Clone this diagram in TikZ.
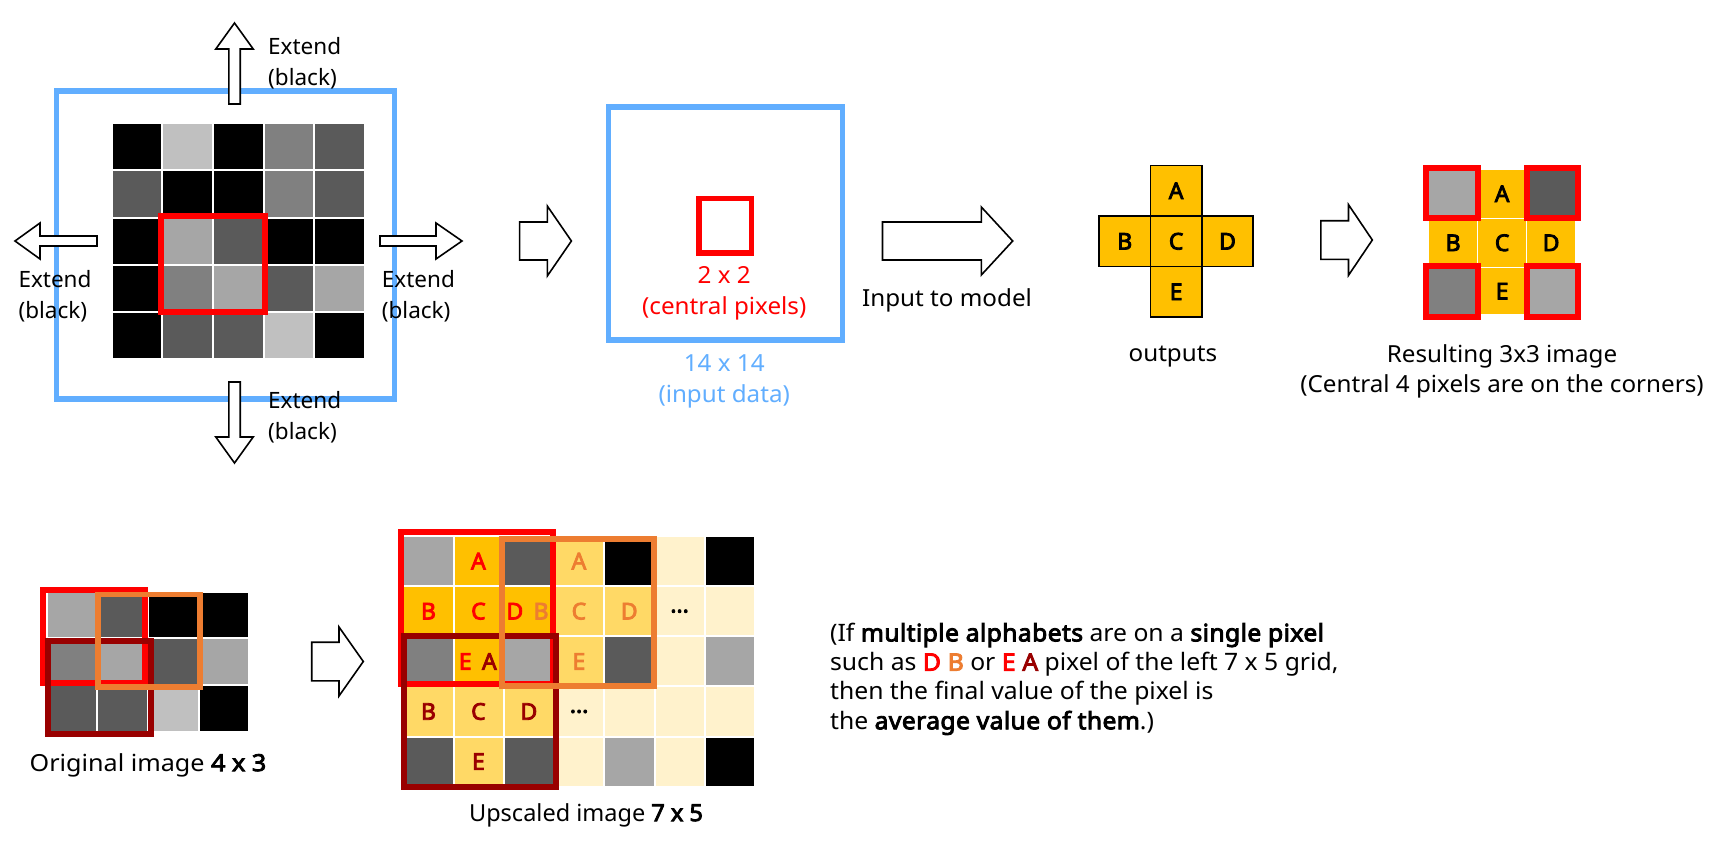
\documentclass[tikz,border=0pt]{standalone}
\usepackage{fontspec}
\setmainfont{Noto Sans}[AutoFakeBold=3.6]
\definecolor{lblue}{RGB}{97,174,255}
\definecolor{ored}{RGB}{237,125,49}
\definecolor{dred}{RGB}{153,0,0}
\definecolor{gold}{HTML}{FFC000}
\definecolor{goldb}{HTML}{FFD966}
\definecolor{goldc}{HTML}{FFF2CC}
\definecolor{ga}{HTML}{C0C0C0}
\definecolor{gb}{HTML}{A6A6A6}
\definecolor{gc}{HTML}{808080}
\definecolor{gd}{HTML}{5A5A5A}
\tikzset{
  blockarrow/.style={draw=black, fill=white, line width=1.6pt, line join=miter},
  lbl/.style={font=\fontsize{23.5}{31}\selectfont\addfontfeatures{FakeStretch=1.03}, inner sep=0pt},
  widelbl/.style={font=\fontsize{23.5}{31}\selectfont\addfontfeatures{FakeStretch=1.07}, inner sep=0pt},
  extlbl/.style={font=\fontsize{22.5}{31}\selectfont, inner sep=0pt, anchor=west, align=left},
  cell/.style={draw=white, line width=2pt},
  let/.style={font=\fontsize{23}{26}\selectfont\bfseries, inner sep=0pt},
  crosscell/.style={draw=black, line width=1.6pt, fill=gold, minimum width=51.4pt, minimum height=50.5pt, inner sep=0pt, font=\fontsize{23}{26}\selectfont\bfseries},
  blueframe/.style={draw=lblue, line width=5.7pt},
  redframe/.style={draw=red, line width=6pt},
  oframe/.style={draw=ored, line width=5.7pt},
  dframe/.style={draw=dred, line width=6pt},
}
% #1,#2 tail centre, #3 rotation, #4 shaft length, #5 head length, #6 shaft half width, #7 head half width
\newcommand\blockarr[7]{%
  \draw[blockarrow,shift={(#1,#2)},rotate=#3] (0,-#6) -- (#4,-#6) -- (#4,-#7) -- (#4+#5,0) -- (#4,#7) -- (#4,#6) -- (0,#6) -- cycle;}
\newcommand\gapp{\hspace{0.45em}}
\newcommand\bw[1]{{\bfseries\addfontfeatures{LetterSpace=1.5}#1}}
\begin{document}
\begin{tikzpicture}[x=1pt,y=-1pt]
\useasboundingbox (0,0) rectangle (1728,845);
\fill[white] (0,0) rectangle (1728,845);

% ---------- panel 1 : 5x5 image with extension ----------
\draw[blueframe] (56.5,91) rectangle (394.5,399);
\foreach \c [count=\i from 0] in {black,ga,black,gc,gd, gd,black,black,gc,gd, black,gb,gd,black,black, black,gc,gb,gd,gb, black,gd,gd,ga,black}{
  \pgfmathtruncatemacro\cc{mod(\i,5)}
  \pgfmathtruncatemacro\rr{floor(\i/5)}
  \path[cell, fill=\c] (111.7+\cc*50.66, 123.3+\rr*47.14) rectangle ++(50.66,47.14);
}
\draw[redframe, line width=5.5pt] (161,216) rectangle (265,312);
\blockarr{234.5}{104}{90}{55}{26}{5.7}{18.7}
\blockarr{234.5}{382}{-90}{55}{26}{5.7}{18.7}
\blockarr{97}{241}{180}{57}{25}{5}{18}
\blockarr{380}{241}{0}{56}{26}{5}{18}
\node[extlbl] (extT) at (268,63.5) {Extend\\(black)};
\node[extlbl] (extL) at (18.3,296.7) {Extend\\(black)};
\node[extlbl] (extR) at (381.7,296.7) {Extend\\(black)};
\node[extlbl] (extB) at (268,417) {Extend\\(black)};

% ---------- panel 2 : 14x14 input ----------
\blockarr{519.6}{241}{0}{27.7}{24.1}{19}{35}
\draw[blueframe] (608.6,107) rectangle (842.4,340);
\draw[red, line width=5.5pt] (699,198.5) rectangle (751.3,253);
\node[lbl, text=red, align=center] (cent) at (724.2,293.5) {2 x 2\\(central pixels)};
\node[lbl, text=lblue, align=center] (inp) at (724.2,381.5) {14 x 14\\(input data)};
\blockarr{882.5}{241}{0}{98.8}{31.4}{19}{34}
\node[lbl] (itm) at (947,300) {Input to model};

% ---------- panel 3 : outputs cross ----------
\node[crosscell] (oA) at (1176.1,190.8) {A};
\node[crosscell] (oB) at (1124.7,241.3) {B};
\node[crosscell] (oC) at (1176.1,241.3) {C};
\node[crosscell] (oD) at (1227.5,241.3) {D};
\node[crosscell] (oE) at (1176.1,291.8) {E};
\node[lbl] (outs) at (1172.9,356.7) {outputs};

\blockarr{1320.8}{240}{0}{27.7}{23.8}{19.3}{35.3}

% ---------- panel 4 : resulting 3x3 ----------
\path[cell, line width=1.5pt, fill=gold] (1477.6,169.3) rectangle (1526.6,218.3);
\path[cell, line width=1.5pt, fill=gold] (1428.6,218.3) rectangle (1477.6,267.3);
\path[cell, line width=1.5pt, fill=gold] (1477.6,218.3) rectangle (1526.6,267.3);
\path[cell, line width=1.5pt, fill=gold] (1526.6,218.3) rectangle (1575.6,267.3);
\path[cell, line width=1.5pt, fill=gold] (1477.6,267.3) rectangle (1526.6,315);
\draw[redframe, fill=gb] (1426,168) rectangle (1477.5,218);
\draw[redframe, fill=gd] (1526.6,168) rectangle (1577.7,218);
\draw[redframe, fill=gc] (1426,266.3) rectangle (1477.5,317);
\draw[redframe, fill=gb] (1526.6,266.3) rectangle (1577.7,317);
\node[let] (rA) at (1502.1,193.8) {A};
\node[let] (rB) at (1453.1,242.8) {B};
\node[let] (rC) at (1502.1,242.8) {C};
\node[let] (rD) at (1551.1,242.8) {D};
\node[let] (rE) at (1502.1,291.2) {E};
\node[lbl] (res1) at (1502,356.7) {Resulting 3x3 image};
\node[lbl] (res2) at (1502,386.7) {(Central 4 pixels are on the corners)};

% ---------- bottom left : original 4x3 ----------
\foreach \c [count=\i from 0] in {gb,gd,black,black, gc,gb,gd,gb, gd,gd,ga,black}{
  \pgfmathtruncatemacro\cc{mod(\i,4)}
  \pgfmathtruncatemacro\rr{floor(\i/4)}
  \path[cell, fill=\c] (46.7+\cc*50.6, 591.7+\rr*46.7) rectangle ++(50.6,46.7);
}
\draw[redframe] (43,590.3) rectangle (144.7,682.7);
\draw[dframe] (48,640.5) rectangle (150.5,733.8);
\draw[oframe] (98,594.5) rectangle (199.8,687);
\node[widelbl] (orig) at (148,765) {Original image \textbf{4 x 3}};

\blockarr{311.7}{661.5}{0}{27.3}{24.3}{19.3}{34.5}

% ---------- bottom middle : upscaled 7x5 ----------
\foreach \c [count=\i from 0] in {gb,gold,gd,goldb,black,goldc,black,
  gold,gold,gold,goldb,goldb,goldc,goldc,
  gc,gold,gb,goldb,gd,goldc,gb,
  goldb,goldb,goldb,goldc,goldc,goldc,goldc,
  gd,goldb,gd,goldc,gb,goldc,black}{
  \pgfmathtruncatemacro\cc{mod(\i,7)}
  \pgfmathtruncatemacro\rr{floor(\i/7)}
  \path[cell, fill=\c] (403.3+\cc*50.24, 536+\rr*50.14) rectangle ++(50.24,50.14);
}
\node[let, text=red]  (u1) at (478.4,561.1) {A};
\node[let, text=ored] (u2) at (578.9,561.1) {A};
\node[let, text=red]  (u3) at (428.4,611.2) {B};
\node[let, text=red]  (u4) at (478.4,611.2) {C};
\node[let] (u5) at (527.5,611.2) {\textcolor{red}{D}\gapp\textcolor{ored}{B}};
\node[let, text=ored] (u6) at (578.9,611.2) {C};
\node[let, text=ored] (u7) at (629.2,611.2) {D};
\node[let] (u8) at (679.6,611.2) {...};
\node[let] (u9) at (477.8,661.4) {\textcolor{red}{E}\gapp\textcolor{dred}{A}};
\node[let, text=ored] (u10) at (578.9,661.4) {E};
\node[let, text=dred] (u11) at (428.4,711.5) {B};
\node[let, text=dred] (u12) at (478.4,711.5) {C};
\node[let, text=dred] (u13) at (528.9,711.5) {D};
\node[let] (u14) at (579.1,711.5) {...};
\node[let, text=dred] (u15) at (478.4,761.6) {E};
\draw[redframe] (401.3,532) rectangle (552.7,683.7);
\draw[dframe] (404,635.7) rectangle (556,787);
\draw[oframe] (502.3,539) rectangle (653.7,686.3);
\node[inner sep=0pt, font=\fontsize{23.5}{31}\selectfont] (ups) at (586,815) {Upscaled image \textbf{7 x 5}};

% ---------- explanation ----------
\node[inner sep=0pt, font=\fontsize{24}{29.3}\selectfont\addfontfeatures{FakeStretch=1.03}, anchor=west, align=left] (expl) at (829.9,679) {(If \bw{multiple alphabets} are on a \bw{single pixel}\\
such as \bw{\textcolor{red}{D} \textcolor{ored}{B}} or \bw{\textcolor{red}{E} \textcolor{dred}{A}} pixel of the left 7 x 5 grid,\\
then the final value of the pixel is\\
the \bw{average value of them}.)};
\end{tikzpicture}
\end{document}
